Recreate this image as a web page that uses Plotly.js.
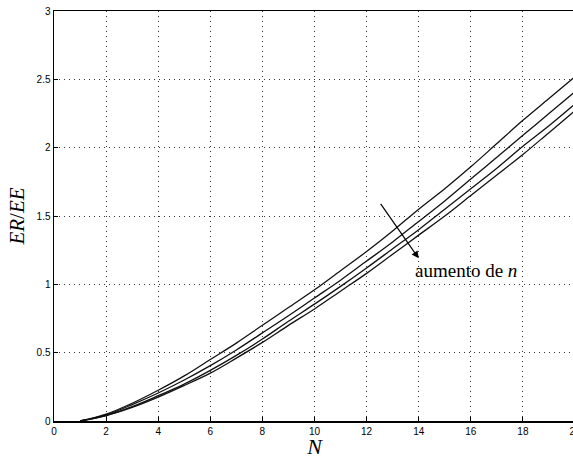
<!DOCTYPE html>
<html><head><meta charset="utf-8">
<script src="https://cdn.plot.ly/plotly-3.0.1.min.js"></script>
<style>html,body{margin:0;padding:0;overflow:hidden;background:#fff}</style>
</head><body><div id="chart"></div>
<script>
const N = [1,2,3,4,5,6,7,8,9,10,11,12,13,14,15,16,17,18,19,20];
const curve1 = [0,0.05,0.13,0.225,0.33,0.45,0.57,0.70,0.83,0.96,1.10,1.24,1.39,1.55,1.70,1.86,2.03,2.20,2.36,2.52];
const curve2 = [0,0.045,0.12,0.205,0.30,0.405,0.52,0.645,0.77,0.90,1.03,1.17,1.31,1.46,1.61,1.77,1.93,2.09,2.25,2.41];
const curve3 = [0,0.04,0.105,0.185,0.27,0.37,0.48,0.60,0.73,0.855,0.985,1.12,1.26,1.40,1.55,1.70,1.85,2.01,2.16,2.32];
const curve4 = [0,0.04,0.10,0.175,0.26,0.35,0.46,0.575,0.70,0.82,0.95,1.08,1.22,1.36,1.50,1.65,1.80,1.95,2.11,2.27];
const xTicks = [0,2,4,6,8,10,12,14,16,18,20];
const yTicks = [0,0.5,1,1.5,2,2.5,3];
const yTickLabels = ["0","0.5","1","1.5","2","2.5","3"];

const traces = [curve1,curve2,curve3,curve4].map(c => ({
  x: N, y: c, type: 'scatter', mode: 'lines',
  line: {color: '#111', width: 1.3, shape: 'spline'}, showlegend: false, hoverinfo: 'skip'
}));

const axisCommon = {
  showline: true, mirror: true, linecolor: '#000', linewidth: 1.5,
  ticks: 'inside', ticklen: 4, tickcolor: '#000',
  showgrid: true, gridcolor: '#333', griddash: '1px,4px', gridwidth: 1,
  zeroline: false,
  tickfont: {family: 'Liberation Sans, Arial, sans-serif', size: 10, color: '#000'}
};

const layout = {
  width: 582, height: 459,
  margin: {l: 54, r: 7, t: 11, b: 38},
  paper_bgcolor: '#fff', plot_bgcolor: '#fff',
  xaxis: Object.assign({}, axisCommon, {
    range: [0, 20.0001], tickvals: xTicks, ticktext: xTicks.map(String),
    title: {text: '<i>N</i>', font: {family: 'Liberation Serif, Times New Roman, serif', size: 22, color: '#000'}, standoff: 0}
  }),
  yaxis: Object.assign({}, axisCommon, {
    range: [0, 3], tickvals: yTicks, ticktext: yTickLabels,
    title: {text: '<i>ER</i>/<i>EE</i>', font: {family: 'Liberation Serif, Times New Roman, serif', size: 21, color: '#000'}, standoff: 6}
  }),
  annotations: [
    {x: 14.0, y: 1.19, ax: 12.5, ay: 1.6, xref: 'x', yref: 'y', axref: 'x', ayref: 'y',
     showarrow: true, arrowhead: 2, arrowsize: 1.2, arrowwidth: 1.2, arrowcolor: '#000', text: ''},
    {x: 13.77, y: 1.1, xref: 'x', yref: 'y', xanchor: 'left', yanchor: 'middle', showarrow: false,
     text: 'aumento de <i>n</i>', font: {family: 'Liberation Serif, Times New Roman, serif', size: 19, color: '#000'}}
  ]
};

Plotly.newPlot('chart', traces, layout, {displayModeBar: false, staticPlot: true});
</script>
</body></html>
